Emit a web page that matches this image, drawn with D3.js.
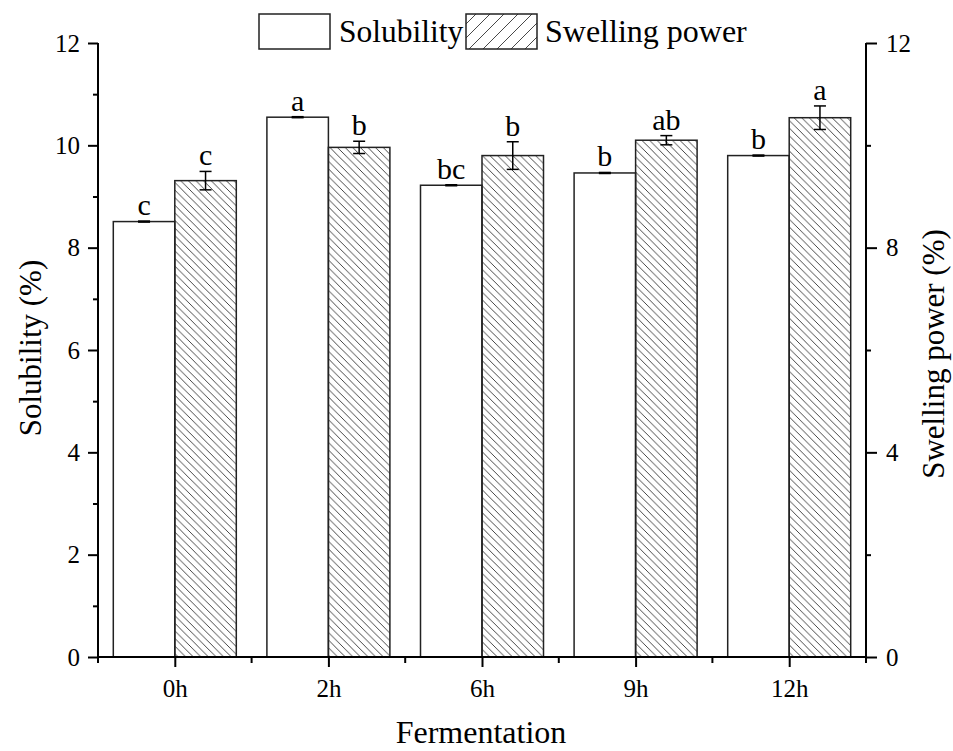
<!DOCTYPE html>
<html>
<head>
<meta charset="utf-8">
<script src="https://d3js.org/d3.v7.min.js"></script>
<style>
  body { margin: 0; background: #fff; }
  svg text { font-family: "Liberation Serif", "Times New Roman", serif; fill: #000; }
</style>
</head>
<body>
<div id="chart"></div>
<script>
// --- data ---
const categories = ["0h", "2h", "6h", "9h", "12h"];
const solubility = [8.51, 10.55, 9.22, 9.46, 9.80];
const solubilitySd = [0.01, 0.01, 0.01, 0.01, 0.01];
const solubilityLetters = ["c", "a", "bc", "b", "b"];
const swelling = [9.31, 9.96, 9.80, 10.10, 10.54];
const swellingSd = [0.18, 0.12, 0.27, 0.09, 0.23];
const swellingLetters = ["c", "b", "b", "ab", "a"];
const leftTicks = [0, 2, 4, 6, 8, 10, 12];
const leftMinor = [1, 3, 5, 7, 9, 11];
const rightTicks = [0, 4, 8, 12];
const rightMinor = [2, 6, 10];

const SERIF = "'Liberation Serif','Times New Roman',serif";
const W = 953, H = 751;
const margin = { left: 98, right: 87, top: 43, bottom: 94 };
const x0 = margin.left, x1 = W - margin.right;
const yTop = margin.top, yBot = H - margin.bottom;

const svg = d3.select("#chart").append("svg").attr("width", W).attr("height", H)
  .attr("font-family", SERIF);

// hatch patterns
const defs = svg.append("defs");
const hatch = defs.append("pattern").attr("id", "hatch")
  .attr("patternUnits", "userSpaceOnUse").attr("width", 7.6).attr("height", 7.6);
hatch.append("path").attr("d", "M-2,5.6 L2,9.6 M0,0 L7.6,7.6 M5.6,-2 L9.6,2")
  .attr("stroke", "#333").attr("stroke-width", 0.9);
const hatchLeg = defs.append("pattern").attr("id", "hatchLeg")
  .attr("patternUnits", "userSpaceOnUse").attr("width", 14).attr("height", 14);
hatchLeg.append("path").attr("d", "M-2,2 L2,-2 M0,14 L14,0 M12,16 L16,12")
  .attr("stroke", "#333").attr("stroke-width", 0.9);

const x = d3.scaleBand().domain(categories).range([x0, x1]);
const y = d3.scaleLinear().domain([0, 12]).range([yBot, yTop]);
const barW = 61.5;

const rows = categories.map((c, i) => ({
  cat: c,
  sol: solubility[i], solSd: solubilitySd[i], solL: solubilityLetters[i],
  sw: swelling[i], swSd: swellingSd[i], swL: swellingLetters[i]
}));
const cx = d => x(d.cat) + x.bandwidth() / 2;

// bars
svg.selectAll(".sol").data(rows).join("rect").attr("class", "sol")
  .attr("x", d => cx(d) - barW).attr("y", d => y(d.sol))
  .attr("width", barW).attr("height", d => yBot - y(d.sol))
  .attr("fill", "#fff").attr("stroke", "#222").attr("stroke-width", 1.5);
svg.selectAll(".sw").data(rows).join("rect").attr("class", "sw")
  .attr("x", d => cx(d)).attr("y", d => y(d.sw))
  .attr("width", barW).attr("height", d => yBot - y(d.sw))
  .attr("fill", "url(#hatch)").attr("stroke", "#222").attr("stroke-width", 1.5);

// error bars
function errBars(cls, xf, v, sd) {
  const g = svg.selectAll("." + cls).data(rows).join("g").attr("class", cls)
    .attr("stroke", "#000").attr("stroke-width", 1.5);
  g.append("line").attr("x1", xf).attr("x2", xf)
    .attr("y1", d => y(d[v] - d[sd])).attr("y2", d => y(d[v] + d[sd]));
  [1, -1].forEach(s => g.append("line")
    .attr("x1", d => xf(d) - 6).attr("x2", d => xf(d) + 6)
    .attr("y1", d => y(d[v] + s * d[sd])).attr("y2", d => y(d[v] + s * d[sd])));
}
errBars("eSol", d => cx(d) - barW / 2, "sol", "solSd");
errBars("eSw", d => cx(d) + barW / 2, "sw", "swSd");

// significance letters
svg.selectAll(".lSol").data(rows).join("text").attr("class", "lSol")
  .attr("x", d => cx(d) - barW / 2).attr("y", d => y(d.sol + d.solSd) - 6)
  .attr("text-anchor", "middle").style("font-size", "30px").text(d => d.solL);
svg.selectAll(".lSw").data(rows).join("text").attr("class", "lSw")
  .attr("x", d => cx(d) + barW / 2).attr("y", d => y(d.sw + d.swSd) - 6)
  .attr("text-anchor", "middle").style("font-size", "30px").text(d => d.swL);

// axes
function styleAxis(g) {
  g.attr("font-family", SERIF);
  g.select(".domain").remove();
  g.selectAll(".tick line").attr("stroke", "#000").attr("stroke-width", 2);
  g.selectAll(".tick text").style("font-size", "25px").style("font-family", SERIF);
}
svg.append("g").attr("transform", `translate(${x0},0)`)
  .call(d3.axisLeft(y).tickValues(leftTicks).tickSize(10).tickPadding(8)).call(styleAxis);
svg.append("g").attr("transform", `translate(${x0},0)`)
  .call(d3.axisLeft(y).tickValues(leftMinor).tickSize(5).tickFormat("")).call(styleAxis);
svg.append("g").attr("transform", `translate(${x1},0)`)
  .call(d3.axisRight(y).tickValues(rightTicks).tickSize(11).tickPadding(9)).call(styleAxis);
svg.append("g").attr("transform", `translate(${x1},0)`)
  .call(d3.axisRight(y).tickValues(rightMinor).tickSize(5).tickFormat("")).call(styleAxis);

const xPts = d3.scalePoint().domain(categories).range([x(categories[0]) + x.bandwidth() / 2,
  x(categories[categories.length - 1]) + x.bandwidth() / 2]);
svg.append("g").attr("transform", `translate(0,${yBot})`)
  .call(d3.axisBottom(xPts).tickSize(10).tickPadding(12)).call(styleAxis);
const edges = categories.map(c => x(c)).concat([x1]);
svg.append("g").selectAll("line").data(edges).join("line")
  .attr("x1", d => d).attr("x2", d => d).attr("y1", yBot).attr("y2", yBot + 6)
  .attr("stroke", "#000").attr("stroke-width", 2);

// spines
svg.append("path")
  .attr("d", `M${x0},${yTop} L${x0},${yBot} L${x1},${yBot} L${x1},${yTop}`)
  .attr("fill", "none").attr("stroke", "#000").attr("stroke-width", 2);

// axis titles
svg.append("text").attr("transform", `translate(41,${(yTop + yBot) / 2 - 2}) rotate(-90)`)
  .attr("text-anchor", "middle").style("font-size", "31px").text("Solubility (%)");
svg.append("text").attr("transform", `translate(944,${(yTop + yBot) / 2 + 4}) rotate(-90)`)
  .attr("text-anchor", "middle").style("font-size", "31px").text("Swelling power (%)");
svg.append("text").attr("x", (x0 + x1) / 2 - 1).attr("y", 743)
  .attr("text-anchor", "middle").style("font-size", "32px").text("Fermentation");

// legend
const leg = svg.append("g");
leg.append("rect").attr("x", 259).attr("y", 14).attr("width", 71).attr("height", 35)
  .attr("fill", "#fff").attr("stroke", "#222").attr("stroke-width", 1.5);
leg.append("text").attr("x", 339).attr("y", 42).style("font-size", "31.5px").text("Solubility");
leg.append("rect").attr("x", 466).attr("y", 14).attr("width", 71).attr("height", 35)
  .attr("fill", "url(#hatchLeg)").attr("stroke", "#222").attr("stroke-width", 1.5);
leg.append("text").attr("x", 545).attr("y", 42).style("font-size", "32px").text("Swelling power");
</script>
</body>
</html>
